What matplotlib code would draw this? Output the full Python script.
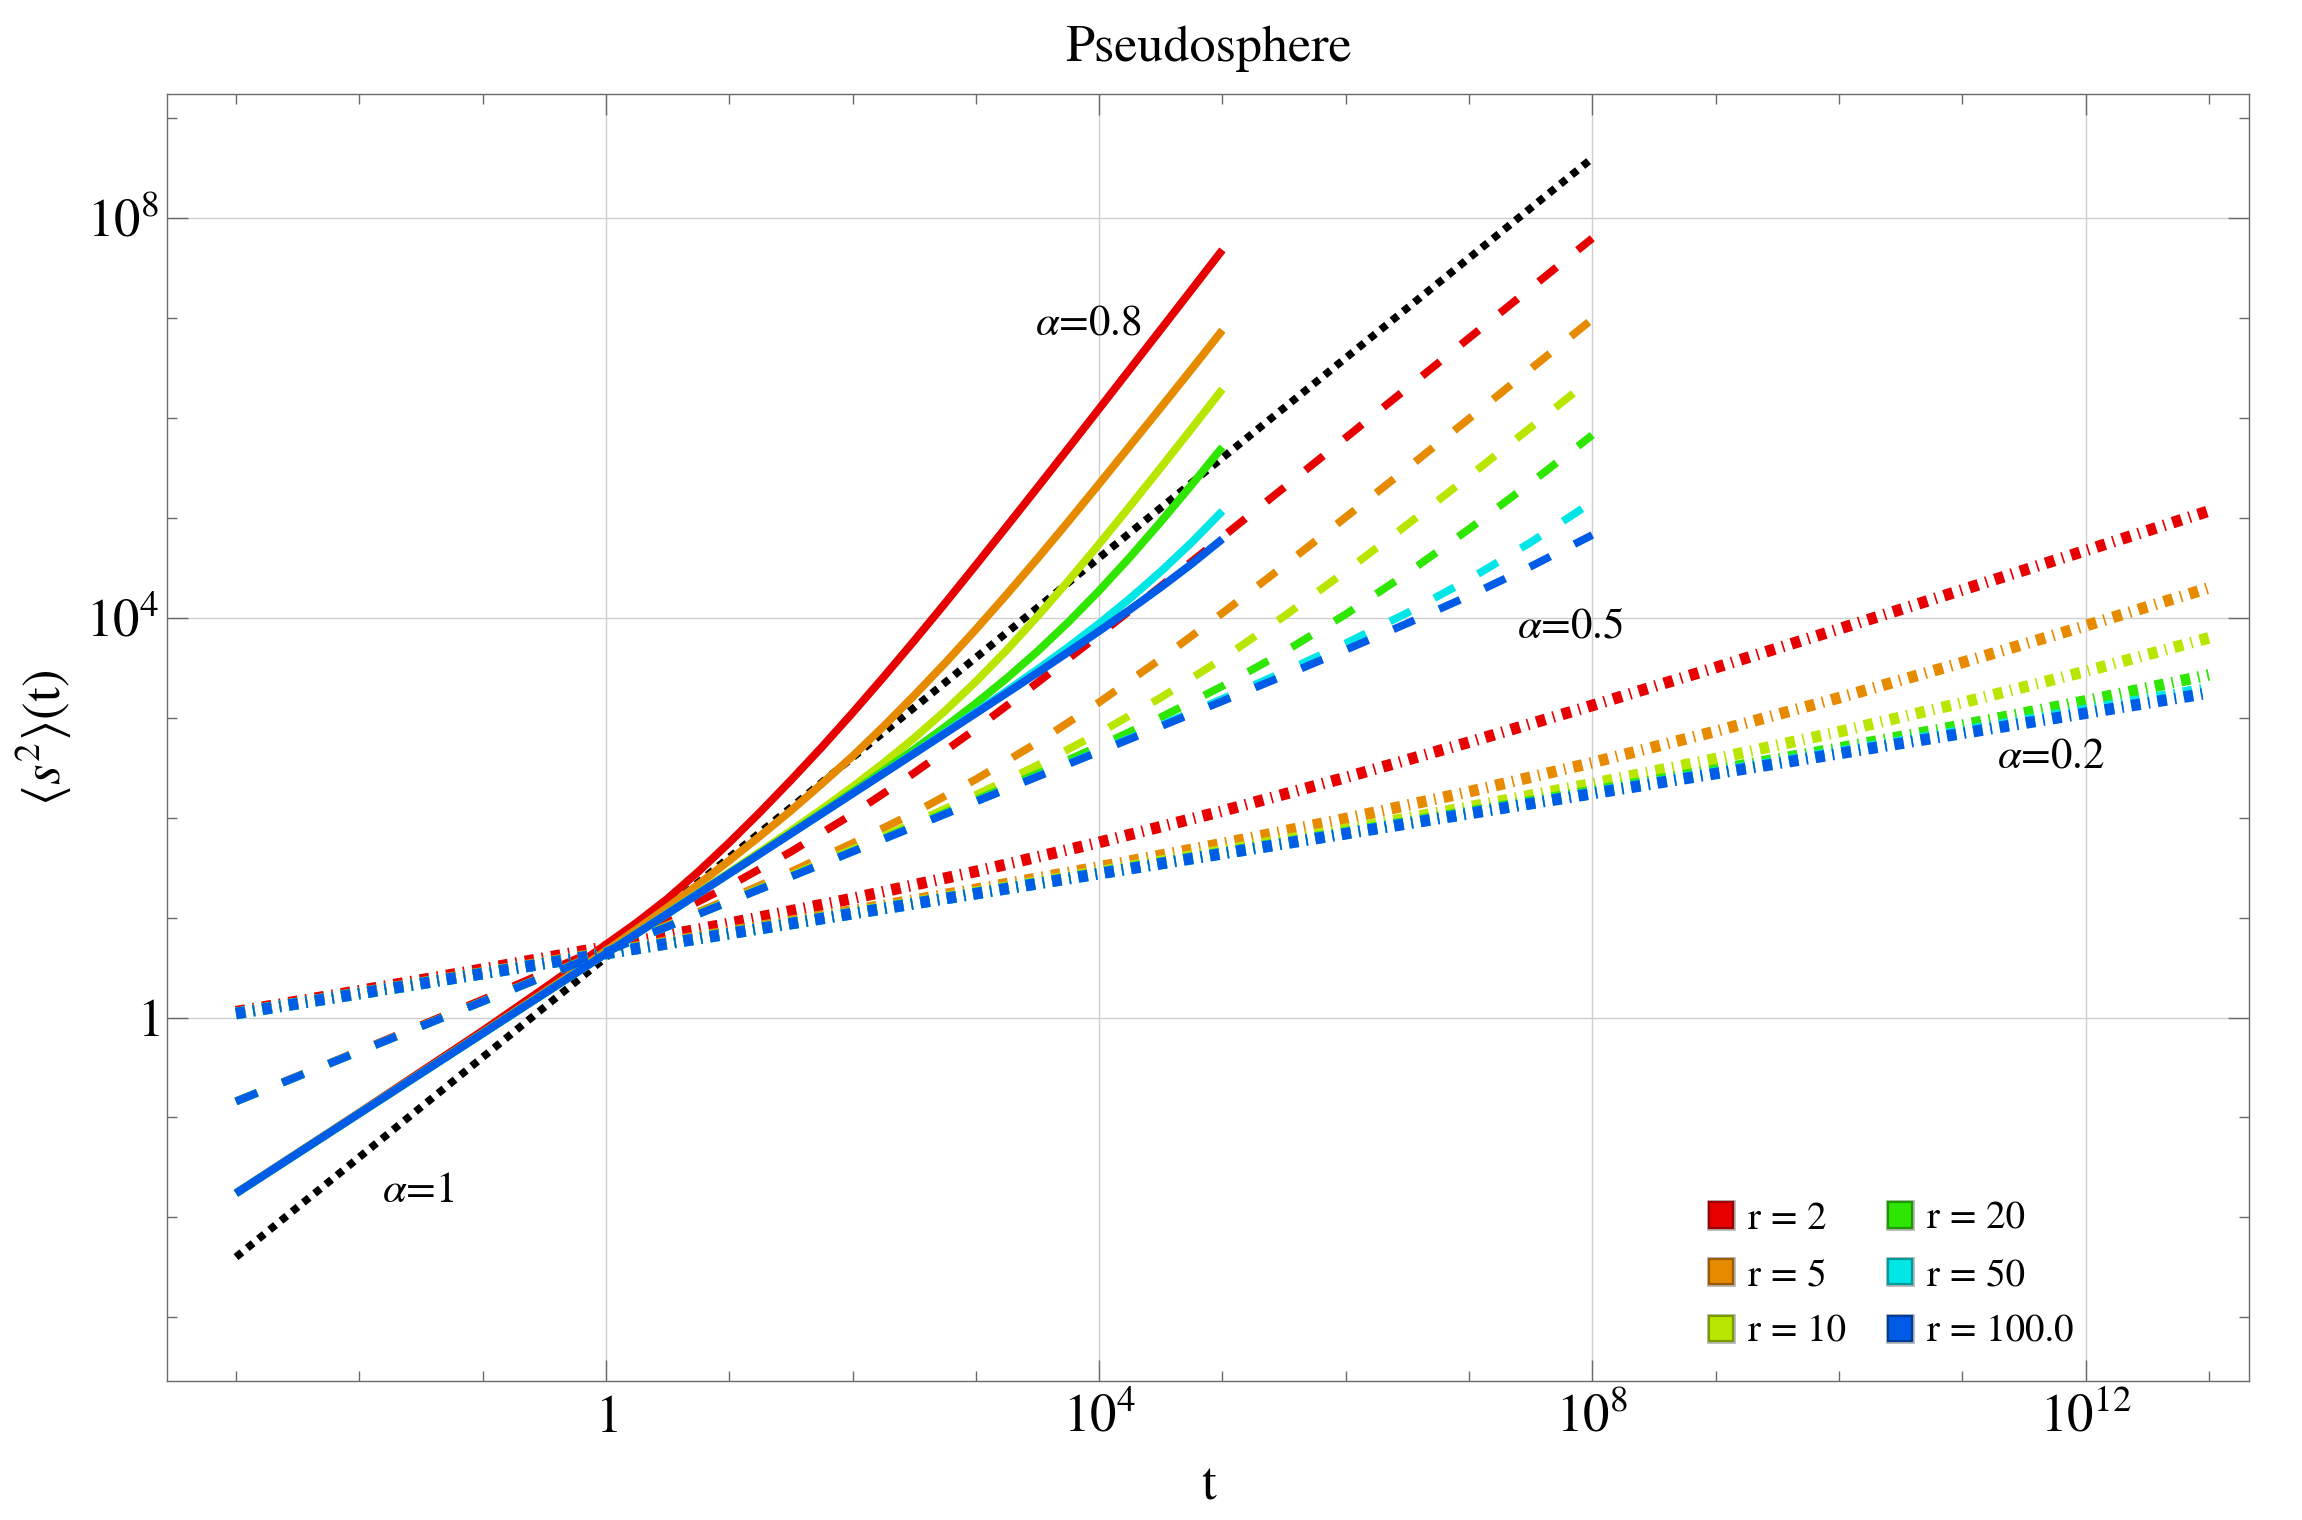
import numpy as np
import matplotlib
matplotlib.use("Agg")
import matplotlib.pyplot as plt
from matplotlib.patches import Patch
import matplotlib.patheffects as pe
from matplotlib.ticker import FixedLocator, NullFormatter

plt.rcParams['font.family'] = ['STIXGeneral', 'DejaVu Serif']
plt.rcParams['mathtext.fontset'] = 'stix'
plt.rcParams['lines.scale_dashes'] = False

# ---------------- data (log10 values) ----------------
radius_labels = ['r = 2', 'r = 5', 'r = 10', 'r = 20', 'r = 50', 'r = 100.0']
colors = ['#e60000', '#e68a00', '#b8e600', '#2ee600', '#00e6e6', '#005ce6']
edge_colors = ['#9a0000', '#9a5c00', '#7a9a00', '#1e9a00', '#009a9a', '#003d9a']

# alpha = 0.8 (solid)
log_t_a08 = [-3, -2, -1, -0.5, 0, 0.25, 0.5, 0.75, 1, 1.25, 1.5, 1.75, 2, 2.25, 2.5,
             2.75, 3, 3.25, 3.5, 3.75, 4, 4.25, 4.5, 4.75, 5]
log_msd_a08_r2 = [-1.758, -0.953, -0.133, 0.294, 0.73, 0.95, 1.19, 1.46, 1.75, 2.055, 2.375, 2.705, 3.049,
                  3.405, 3.771, 4.145, 4.528, 4.915, 5.305, 5.698, 6.093, 6.490, 6.887, 7.285, 7.684]
log_msd_a08_r5 = [-1.76, -0.958, -0.153, 0.253, 0.667, 0.883, 1.103, 1.333, 1.570, 1.816, 2.070, 2.338, 2.615,
                  2.912, 3.223, 3.547, 3.884, 4.234, 4.594, 4.964, 5.341, 5.723, 6.105, 6.490, 6.88]
log_msd_a08_r10 = [-1.76, -0.96, -0.16, 0.241, 0.642, 0.843, 1.045, 1.248, 1.452, 1.659, 1.869, 2.085, 2.309,
                   2.546, 2.797, 3.068, 3.362, 3.677, 4.015, 4.370, 4.739, 5.118, 5.504, 5.895, 6.29]
log_msd_a08_r20 = [-1.76, -0.96, -0.16, 0.24, 0.641, 0.841, 1.041, 1.242, 1.443, 1.645, 1.847, 2.052, 2.258,
                   2.469, 2.684, 2.908, 3.144, 3.395, 3.665, 3.957, 4.272, 4.608, 4.962, 5.331, 5.71]
log_msd_a08_r50 = [-1.76, -0.96, -0.16, 0.24, 0.64, 0.84, 1.04, 1.24, 1.44, 1.64, 1.841, 2.042, 2.243,
                   2.445, 2.647, 2.852, 3.058, 3.268, 3.484, 3.708, 3.943, 4.194, 4.464, 4.755, 5.07]
log_msd_a08_r100 = [-1.76, -0.96, -0.16, 0.24, 0.64, 0.84, 1.04, 1.24, 1.44, 1.64, 1.84, 2.04, 2.241,
                    2.441, 2.642, 2.843, 3.045, 3.247, 3.451, 3.658, 3.868, 4.083, 4.306, 4.540, 4.79]

# alpha = 0.5 (dashed)
log_t_a05 = [-3, -2, -1, 0, 0.5, 1, 1.5, 2, 2.5, 3, 3.5, 4, 4.5, 5, 5.5, 6, 6.5, 7, 7.5, 8]
log_msd_a05_r2 = [-0.838, -0.334, 0.179, 0.716, 1.005, 1.317, 1.659, 2.036, 2.448, 2.889, 3.352, 3.830, 4.317, 4.810, 5.305, 5.803, 6.302, 6.801, 7.300, 7.80]
log_msd_a05_r5 = [-0.840, -0.339, 0.163, 0.669, 0.926, 1.188, 1.459, 1.744, 2.049, 2.384, 2.752, 3.155, 3.590, 4.048, 4.523, 5.008, 5.499, 5.994, 6.492, 6.99]
log_msd_a05_r10 = [-0.84, -0.34, 0.16, 0.662, 0.914, 1.167, 1.423, 1.683, 1.950, 2.228, 2.525, 2.847, 3.202, 3.592, 4.016, 4.466, 4.935, 5.417, 5.906, 6.40]
log_msd_a05_r20 = [-0.84, -0.34, 0.16, 0.661, 0.911, 1.162, 1.413, 1.666, 1.921, 2.179, 2.442, 2.716, 3.005, 3.317, 3.659, 4.036, 4.448, 4.889, 5.352, 5.83]
log_msd_a05_r50 = [-0.84, -0.34, 0.16, 0.66, 0.91, 1.16, 1.41, 1.661, 1.912, 2.163, 2.415, 2.669, 2.926, 3.189, 3.460, 3.745, 4.051, 4.386, 4.756, 5.16]
log_msd_a05_r100 = [-0.84, -0.34, 0.16, 0.66, 0.91, 1.16, 1.41, 1.66, 1.91, 2.161, 2.411, 2.662, 2.914, 3.167, 3.422, 3.680, 3.946, 4.221, 4.514, 4.83]

# alpha = 0.2 (dot-dashed)
log_t_a02 = [-3, -2, -1, 0, 1, 2, 3, 4, 5, 6, 7, 8, 9, 10, 11, 12, 13]
log_msd_a02_r2 = [0.058, 0.268, 0.484, 0.707, 0.942, 1.192, 1.462, 1.753, 2.067, 2.403, 2.756, 3.124, 3.503, 3.889, 4.280, 4.674, 5.07]
log_msd_a02_r5 = [0.043, 0.245, 0.447, 0.651, 0.858, 1.068, 1.283, 1.507, 1.741, 1.991, 2.260, 2.551, 2.865, 3.200, 3.553, 3.921, 4.30]
log_msd_a02_r10 = [0.04, 0.24, 0.441, 0.643, 0.845, 1.047, 1.251, 1.458, 1.668, 1.883, 2.107, 2.341, 2.591, 2.860, 3.151, 3.465, 3.80]
log_msd_a02_r20 = [0.04, 0.24, 0.44, 0.641, 0.841, 1.042, 1.242, 1.444, 1.646, 1.849, 2.055, 2.263, 2.476, 2.696, 2.926, 3.169, 3.430]
log_msd_a02_r50 = [0.04, 0.24, 0.44, 0.64, 0.84, 1.04, 1.24, 1.441, 1.641, 1.842, 2.043, 2.245, 2.449, 2.654, 2.861, 3.073, 3.292]
log_msd_a02_r100 = [0.04, 0.24, 0.44, 0.64, 0.84, 1.04, 1.24, 1.44, 1.64, 1.84, 2.041, 2.241, 2.442, 2.642, 2.844, 3.046, 3.249]

# alpha = 1 reference (black dotted)
log_t_ref = [-3, 8]
log_msd_ref = [-2.398, 8.602]

x_tick_labels = ['$1$', '$10^{4}$', '$10^{8}$', '$10^{12}$']
y_tick_labels = ['$1$', '$10^{4}$', '$10^{8}$']

# ---------------- figure ----------------
fig = plt.figure(figsize=(23.02, 15.20), dpi=100)
ax = fig.add_axes([0.07268, 0.09164, 0.90443, 0.84632])

ax.set_xscale('log')
ax.set_yscale('log')

solid = dict(lw=5.7, ls='-', solid_capstyle='butt', solid_joinstyle='round')
dashed = dict(lw=5.6, linestyle=(0, (16.5, 19.5)), dash_capstyle='butt')
dotdash = dict(lw=8.4, linestyle=(0, (6.8, 5.6, 1.2, 5.6)), dash_capstyle='butt')
dotted = dict(lw=5.5, linestyle=(0, (5.4, 5.0)), dash_capstyle='butt')

ax.plot(10.0 ** np.array(log_t_ref), 10.0 ** np.array(log_msd_ref), color='black', zorder=2, **dotted)

groups_a08 = [log_msd_a08_r2, log_msd_a08_r5, log_msd_a08_r10, log_msd_a08_r20, log_msd_a08_r50, log_msd_a08_r100]
groups_a05 = [log_msd_a05_r2, log_msd_a05_r5, log_msd_a05_r10, log_msd_a05_r20, log_msd_a05_r50, log_msd_a05_r100]
groups_a02 = [log_msd_a02_r2, log_msd_a02_r5, log_msd_a02_r10, log_msd_a02_r20, log_msd_a02_r50, log_msd_a02_r100]

z = 3
for i, c in enumerate(colors):
    ax.plot(10.0 ** np.array(log_t_a02), 10.0 ** np.array(groups_a02[i]), color=c, zorder=z, **dotdash)
    ax.plot(10.0 ** np.array(log_t_a05), 10.0 ** np.array(groups_a05[i]), color=c, zorder=z + 0.1, **dashed)
    ax.plot(10.0 ** np.array(log_t_a08), 10.0 ** np.array(groups_a08[i]), color=c, zorder=z + 0.2, **solid)
    z += 1

ax.set_xlim(10 ** -3.5572, 10 ** 13.3285)
ax.set_ylim(10 ** -3.6356, 10 ** 9.2412)

ax.xaxis.set_major_locator(FixedLocator([1, 1e4, 1e8, 1e12]))
ax.xaxis.set_minor_locator(FixedLocator([10.0 ** k for k in range(-3, 14) if k % 4 != 0]))
ax.yaxis.set_major_locator(FixedLocator([1, 1e4, 1e8]))
ax.yaxis.set_minor_locator(FixedLocator([10.0 ** k for k in range(-3, 10) if k % 4 != 0]))
ax.set_xticklabels(x_tick_labels)
ax.set_yticklabels(y_tick_labels)
ax.xaxis.set_minor_formatter(NullFormatter())
ax.yaxis.set_minor_formatter(NullFormatter())

frame_col = '#6a6a6a'
for s in ax.spines.values():
    s.set_color(frame_col)
    s.set_linewidth(1.0)
ax.tick_params(which='both', direction='in', top=True, right=True, color=frame_col, width=1.0)
ax.tick_params(which='major', length=15)
ax.tick_params(which='minor', length=7.3)
ax.tick_params(axis='x', which='major', labelsize=38, pad=10)
ax.tick_params(axis='y', which='major', labelsize=38, pad=5.7)
ax.grid(which='major', color='#cfcfcf', lw=1.0, zorder=0)
ax.set_axisbelow(True)

# labels and title
ax.set_xlabel('t', fontsize=38, va='baseline')
ax.xaxis.set_label_coords(0.5, -0.0914)
ax.set_ylabel(r'$\langle s^{2}\rangle$(t)', fontsize=38, va='center', ha='center')
ax.yaxis.set_label_coords(-0.0594, 0.5)
fig.text(0.5249, 1 - 61 / 1520, 'Pseudosphere', fontsize=37.5, ha='center', va='baseline')

# annotations
ann = dict(fontsize=31, ha='center', va='baseline', zorder=20)
ax.text(10 ** -1.525, 10 ** -1.844, r'$\alpha$=1', **ann)
ax.text(10 ** 3.913, 10 ** 6.835, r'$\alpha$=0.8', **ann)
ax.text(10 ** 7.822, 10 ** 3.803, r'$\alpha$=0.5', **ann)
ax.text(10 ** 11.717, 10 ** 2.503, r'$\alpha$=0.2', **ann)

# legend
handles = []
for c, ec, lab in zip(colors, edge_colors, radius_labels):
    p = Patch(facecolor=c, edgecolor=ec, linewidth=1.6, label=lab)
    p.set_path_effects([pe.Stroke(linewidth=3.4, foreground='#b4b4b4'), pe.Normal()])
    handles.append(p)
leg = ax.legend(handles=handles, ncol=2, loc='upper left',
                bbox_to_anchor=((1709.3 - 167.3) / 2082.0, 0.139),
                bbox_transform=ax.transAxes, frameon=False, fontsize=28,
                handlelength=0.617, handleheight=0.617, handletextpad=0.38,
                columnspacing=1.08, labelspacing=0.56, borderpad=0.0, borderaxespad=0.0)

fig.savefig('out.png', dpi=100)
